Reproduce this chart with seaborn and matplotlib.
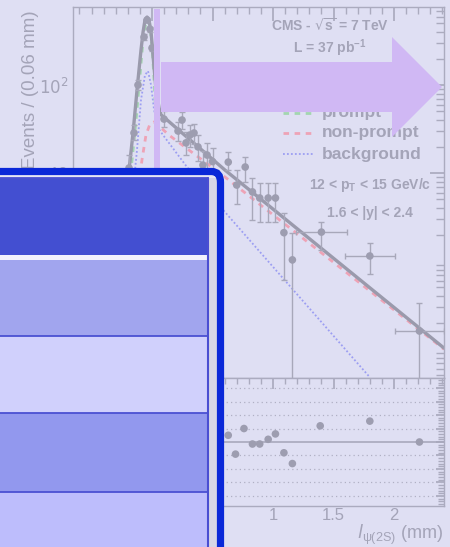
import numpy as np
import matplotlib
matplotlib.use("Agg")
import matplotlib.pyplot as plt
from matplotlib.patches import Rectangle, Polygon, FancyBboxPatch
from matplotlib.lines import Line2D
import seaborn as sns

sns.set_theme(style="white")
plt.rcParams["font.family"] = ["Liberation Sans", "DejaVu Sans"]

# ---- measured data (decay length in mm, events per 0.06 mm) ----
data_x = [-0.31, -0.25, -0.19, -0.149, -0.116, -0.066, -0.041, -0.017, 0.0,
          0.099, 0.215, 0.248, 0.281, 0.314, 0.347, 0.380, 0.421, 0.455, 0.50,
          0.63, 0.70, 0.77, 0.83, 0.89, 0.96, 1.02, 1.09, 1.16, 1.40, 1.80, 2.21]
data_y = [1.2, 3.5, 11.4, 28.5, 100, 351, 548, 432, 263,
          41, 30, 40, 22, 27, 28.5, 19.8, 12.3, 16, 13.5,
          13.3, 7.3, 11.7, 6.1, 5.2, 5.2, 5.2, 2.1, 1.03, 2.13, 1.14, 0.16]
data_lo = [0.6, 1.5, 4.0, 5.0, 12, 25, 30, 28, 22,
           8, 7, 8, 6, 7, 7, 6, 5, 5.5, 5,
           2.5, 2.8, 3.7, 3.2, 2.4, 2.4, 2.4, 1.49, 1.0, 0.79, 0.43, 0.16]
data_hi = [0.9, 2.0, 4.6, 6.6, 14, 27, 32, 30, 24,
           9, 8, 9, 7, 8, 8, 7, 5.5, 6, 5.5,
           4.0, 3.5, 3.5, 2.7, 2.5, 2.5, 2.5, 1.4, 1.07, 0.67, 0.46, 0.17]
data_xerr = [0]*28 + [0.21, 0.205, 0.20]

# ---- pulls in the lower panel ----
pull_x = [0.50, 0.63, 0.69, 0.76, 0.83, 0.89, 0.96, 1.02, 1.09, 1.16, 1.39, 1.80, 2.21]
pull_y = [0.2, 0.5, -0.9, 1.0, -0.15, -0.15, 0.2, 0.6, -0.8, -1.6, 1.2, 1.55, 0.0]

# ---- fit components ----
total_x = [-0.40, -0.223, -0.19, -0.157, -0.12, -0.091, -0.074, -0.058, -0.041,
           -0.025, -0.008, 0.008, 0.033, 0.058, 0.074, 0.603, 2.413]
total_y = [0.3, 4.9, 10.8, 28.5, 100, 250, 400, 548, 592,
           548, 400, 219, 88, 55, 46, 10.8, 0.1025]
nonprompt_x = [-0.22, -0.124, -0.083, -0.05, -0.017, 0.017, 0.066, 0.149, 0.603, 2.413]
nonprompt_y = [0.3, 4.9, 14.1, 27, 36, 38, 33.3, 26.4, 9.0, 0.0995]
prompt_x = [-0.26, -0.198, -0.165, -0.132, -0.099, -0.074, -0.05, -0.033, -0.017,
            0.0, 0.017, 0.033, 0.05, 0.074, 0.12]
prompt_y = [0.3, 4.9, 14.1, 40, 130, 325, 520, 548, 455,
            285, 114, 40, 14, 4.9, 0.3]
bkg_x = [-0.25, -0.165, -0.124, -0.091, -0.058, -0.033, -0.008, 0.017, 0.05,
         0.091, 0.289, 0.603, 1.80]
bkg_y = [0.3, 4.9, 18.3, 67.6, 130, 144, 100, 52, 32.5,
         27, 11.7, 3.6, 0.0477]

legend_labels = ["data", "fit", "prompt", "non-prompt", "background"]

W, H = 450, 547
BG = "#dfdff3"
GREY = "#9d9db0"
TXT = "#a4a4b8"
AX = "#ababbf"


def fx(x):
    return x / W


def fy(y):
    return 1 - y / H


fig = plt.figure(figsize=(W / 100, H / 100), dpi=100, facecolor=BG)

ax1 = fig.add_axes([fx(73), fy(378), (444 - 73) / W, (378 - 7) / H])
ax2 = fig.add_axes([fx(73), fy(506), (444 - 73) / W, (506 - 378) / H])
for ax in (ax1, ax2):
    ax.set_facecolor(BG)
    for s in ax.spines.values():
        s.set_color(AX)
        s.set_linewidth(1.0)
    ax.set_xlim(-0.653, 2.413)

# upper panel
ax1.set_yscale("log")
ax1.set_ylim(10 ** (2 - (378 - 85) / 88), 10 ** (2 + (85 - 7) / 88))

sns.lineplot(x=bkg_x, y=bkg_y, ax=ax1, color="#9c9ef2", lw=1.3,
             linestyle=(0, (1, 1.2)), estimator=None, sort=False)
sns.lineplot(x=nonprompt_x, y=nonprompt_y, ax=ax1, color="#eea3b6", lw=2.0,
             linestyle=(0, (2, 2)), estimator=None, sort=False)
sns.lineplot(x=prompt_x, y=prompt_y, ax=ax1, color="#a3d6b0", lw=2.0,
             linestyle=(0, (2, 2)), estimator=None, sort=False)
sns.lineplot(x=total_x, y=total_y, ax=ax1, color="#9a9aac", lw=2.4,
             estimator=None, sort=False)

ax1.errorbar(data_x, data_y, yerr=[data_lo, data_hi], xerr=data_xerr,
             fmt="none", ecolor="#a8a8ba", elinewidth=1.0, capsize=2.5,
             capthick=1.0, zorder=3)
sns.scatterplot(x=data_x, y=data_y, ax=ax1, color=GREY, s=30,
                edgecolor="none", zorder=4)

ax1.set_xticks([0, 0.5, 1, 1.5, 2])
ax1.set_xticks(np.arange(-0.6, 2.41, 0.1), minor=True)
ax1.tick_params(axis="both", which="both", direction="in", top=True,
                right=True, color=AX, labelbottom=False)
ax1.tick_params(axis="both", which="major", length=10)
ax1.tick_params(axis="x", which="minor", length=5)
ax1.tick_params(axis="y", which="minor", length=6)
ax1.set_yticks([10, 100])
ax1.set_yticklabels(["10", "$10^2$"], fontsize=12, color=TXT)
ax1.set_xlabel("")
ax1.set_ylabel("")

fig.text(fx(31), fy(10), "Events / (0.06 mm)", rotation=90, ha="center",
         va="top", fontsize=13.5, color=TXT)

ax1.text(fx(330), fy(26), r"CMS - $\sqrt{\mathregular{s}}$ = 7 TeV", transform=fig.transFigure,
         ha="center", va="center", fontsize=10, fontweight="bold", color=TXT)
ax1.text(fx(330), fy(48), r"L = 37 pb$^{\mathregular{-1}}$", transform=fig.transFigure,
         ha="center", va="center", fontsize=10, fontweight="bold", color=TXT)
ax1.text(fx(370), fy(185), r"12 < p$_{\mathregular{T}}$ < 15 GeV/c", transform=fig.transFigure,
         ha="center", va="center", fontsize=10, fontweight="bold", color=TXT)
ax1.text(fx(370), fy(213), "1.6 < |y| < 2.4", transform=fig.transFigure,
         ha="center", va="center", fontsize=10, fontweight="bold", color=TXT)

# legend
leg_y = [73, 93, 113, 133, 154]
leg_style = [None, ("#9a9aac", "-", 2.4), ("#a3d6b0", (0, (2, 2)), 2.0),
             ("#eea3b6", (0, (2, 2)), 2.0), ("#9c9ef2", (0, (1, 1.2)), 1.3)]
for lab, yy, st in zip(legend_labels, leg_y, leg_style):
    if st is None:
        fig.add_artist(Line2D([fx(298)], [fy(yy)], marker="o", color=GREY,
                              markersize=5, transform=fig.transFigure))
    else:
        fig.add_artist(Line2D([fx(283), fx(314)], [fy(yy), fy(yy)], color=st[0],
                              linestyle=st[1], lw=st[2], transform=fig.transFigure))
    fig.text(fx(322), fy(yy), lab, ha="left", va="center", fontsize=12.5,
             fontweight="bold", color=TXT)

# lower panel: pulls
ax2.set_ylim(-4.75, 4.75)
for k in [-4, -3, -2, -1, 1, 2, 3, 4]:
    ax2.axhline(k, color="#b0b0c4", lw=0.9, linestyle=(0, (1, 2.5)))
ax2.axhline(0, color="#a8a8bc", lw=1.2)
sns.scatterplot(x=pull_x, y=pull_y, ax=ax2, color=GREY, s=30,
                edgecolor="none", zorder=4)
ax2.set_xticks([0, 0.5, 1, 1.5, 2])
ax2.set_xticklabels(["0", "0.5", "1", "1.5", "2"], fontsize=12, color=TXT)
ax2.set_xticks(np.arange(-0.6, 2.41, 0.1), minor=True)
ax2.set_yticks(np.arange(-4, 5, 1))
ax2.set_yticks(np.arange(-4.6, 4.7, 0.2), minor=True)
ax2.set_yticklabels([])
ax2.tick_params(axis="both", which="both", direction="in", top=True,
                right=True, color=AX, pad=1.5)
ax2.tick_params(axis="x", which="major", length=8)
ax2.tick_params(axis="x", which="minor", length=4)
ax2.tick_params(axis="y", which="major", length=6)
ax2.tick_params(axis="y", which="minor", length=4)
ax2.set_xlabel("")
ax2.set_ylabel("")
fig.text(fx(443), fy(539), r"$\mathit{l}_{\mathregular{\psi(2S)}}$ (mm)", ha="right",
         va="baseline", fontsize=13, color=TXT)

# ---- overlay graphics ----
PURPLE = "#d0b8f4"
fig.add_artist(Rectangle((fx(154), fy(547)), 6 / W, (547 - 9) / H,
                         transform=fig.transFigure, color=PURPLE, lw=0, zorder=10))
arrow = [(161, 62), (392, 62), (392, 37), (442, 87), (392, 137), (392, 112), (161, 112)]
fig.add_artist(Polygon([(fx(a), fy(b)) for a, b in arrow], closed=True,
                       transform=fig.transFigure, color=PURPLE, lw=0, zorder=10))

# framed panel with stacked bands
fig.add_artist(Rectangle((fx(-5), fy(560)), 225 / W, (560 - 172) / H,
                         transform=fig.transFigure, facecolor="#e6e6f5",
                         edgecolor="none", zorder=11))
fig.add_artist(Rectangle((fx(208), fy(560)), 10 / W, (560 - 178) / H,
                         transform=fig.transFigure, facecolor="#d6d6e6",
                         edgecolor="none", zorder=11))
bands = [(178, 255, "#434fd1"), (255, 260, "#f2f2fd"), (260, 336, "#a1a5ee"),
         (336, 413, "#d0d0fc"), (413, 492, "#9298ee"), (492, 560, "#bdbdfc")]
for y0, y1, c in bands:
    fig.add_artist(Rectangle((fx(-5), fy(y1)), 213 / W, (y1 - y0) / H,
                             transform=fig.transFigure, facecolor=c,
                             edgecolor="none", zorder=12))
for yy in [178, 336, 413, 492]:
    fig.add_artist(Line2D([fx(-5), fx(208)], [fy(yy), fy(yy)], color="#4a50d2",
                          lw=1.3, transform=fig.transFigure, zorder=13))
fig.add_artist(Line2D([fx(208), fx(208)], [fy(178), fy(560)], color="#4a4ed2",
                      lw=1.5, transform=fig.transFigure, zorder=13))
frame = FancyBboxPatch((fx(-30), fy(600)), (220.5 + 30) / W, (600 - 171.5) / H,
                       boxstyle="round,pad=0,rounding_size=0.02",
                       transform=fig.transFigure, facecolor="none",
                       edgecolor="#0a28d8", lw=5.2, zorder=14)
fig.add_artist(frame)

fig.savefig("out.png", dpi=100, facecolor=BG)
